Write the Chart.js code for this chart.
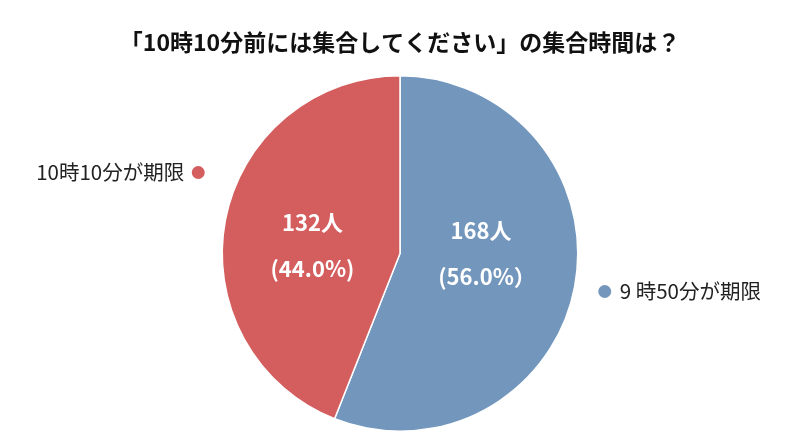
<!DOCTYPE html>
<html><head><meta charset="utf-8">
<script src="https://cdn.jsdelivr.net/npm/chart.js@4"></script>
<style>html,body{margin:0;padding:0;background:#fff}#wrap{width:800px;height:446px}</style>
</head><body><div id="wrap"><canvas id="c"></canvas></div>
<script>
const titleText = '「10時10分前には集合してください」の集合時間は？';
const categories = ['9 時50分が期限', '10時10分が期限'];
const counts = [168, 132];
const percentLabels = ['(56.0%）', '(44.0%)'];
const colors = ['#7396BD', '#D45D5E'];

const FONT = '"Noto Sans CJK JP", "Noto Sans", sans-serif';

const labelPlugin = {
  id: 'labels',
  afterDatasetsDraw(chart) {
    const ctx = chart.ctx;
    const meta = chart.getDatasetMeta(0);
    ctx.save();
    // inner labels
    const offs = [{dx: 5, dy: -16}, {dx: -2, dy: 8}];
    meta.data.forEach((arc, i) => {
      const cx = arc.x, cy = arc.y, R = arc.outerRadius;
      const mid = (arc.startAngle + arc.endAngle) / 2;
      const f = i === 0 ? 0.47 : 0.49;
      const x = cx + Math.cos(mid) * R * f + offs[i].dx;
      const y = cy + Math.sin(mid) * R * f + offs[i].dy;
      ctx.fillStyle = '#fff';
      ctx.font = 'bold 22px ' + FONT;
      ctx.textAlign = 'center';
      ctx.textBaseline = 'middle';
      ctx.fillText(counts[i] + '人', x - (i === 0 ? 6 : 0), y - 23);
      ctx.fillText(percentLabels[i], x, y + 23);
    });
    // outer category labels
    const a0 = meta.data[0];
    const cx = a0.x, cy = a0.y, R = a0.outerRadius;
    ctx.font = '20.5px ' + FONT;
    ctx.textBaseline = 'middle';
    // right (blue)
    ctx.fillStyle = colors[0];
    ctx.beginPath(); ctx.arc(cx + R + 27, cy + 38, 6.5, 0, Math.PI * 2); ctx.fill();
    ctx.fillStyle = '#222';
    ctx.textAlign = 'left';
    ctx.fillText(categories[0], cx + R + 42, cy + 38);
    // left (red)
    ctx.fillStyle = colors[1];
    ctx.beginPath(); ctx.arc(cx - R - 24, cy - 81, 6.5, 0, Math.PI * 2); ctx.fill();
    ctx.fillStyle = '#222';
    ctx.textAlign = 'right';
    ctx.fillText(categories[1], cx - R - 38, cy - 81);
    ctx.restore();
  }
};

new Chart(document.getElementById('c'), {
  type: 'pie',
  data: {
    labels: categories,
    datasets: [{
      data: counts,
      backgroundColor: colors,
      borderColor: '#fff',
      borderWidth: 1.5
    }]
  },
  options: {
    responsive: true,
    maintainAspectRatio: false,
    animation: false,
    layout: { padding: { top: 0, bottom: 14, left: 0, right: 0 } },
    plugins: {
      legend: { display: false },
      tooltip: { enabled: false },
      title: {
        display: true,
        text: titleText,
        color: '#111',
        font: { family: FONT, size: 23, weight: 'bold', lineHeight: 1.2 },
        padding: { top: 28, bottom: 19.4 }
      }
    }
  },
  plugins: [labelPlugin]
});
</script>
</body></html>
